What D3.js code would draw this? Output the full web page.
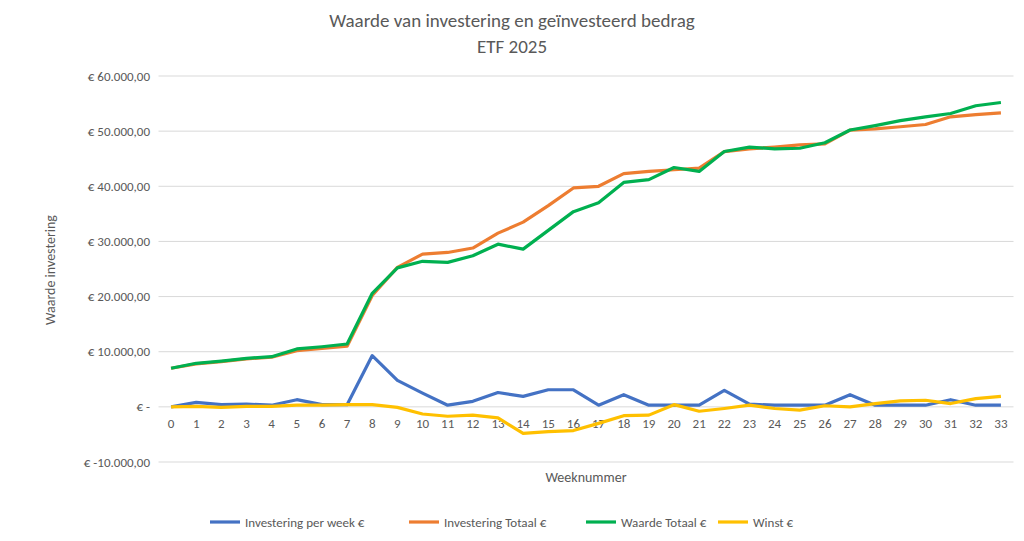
<!DOCTYPE html>
<html>
<head>
<meta charset="utf-8">
<script src="https://cdn.jsdelivr.net/npm/d3@7"></script>
<style>
  body { margin: 0; background: #fff; }
  text { font-family: Calibri, Carlito, "Open Sans", sans-serif; fill: #595959; }
</style>
</head>
<body>
<svg id="chart" width="1024" height="541"></svg>
<script>
const weeks = d3.range(0, 34);
const perWeek = [0, 800, 400, 500, 300, 1300, 400, 400, 9300, 4800, 2500, 300, 1000, 2600, 1900, 3100, 3100, 300, 2200, 300, 300, 300, 3000, 500, 300, 300, 300, 2200, 300, 300, 300, 1300, 300, 300];
const totaal = [7000, 7800, 8200, 8700, 9000, 10200, 10600, 11000, 20200, 25300, 27700, 28000, 28800, 31500, 33500, 36500, 39700, 40000, 42300, 42700, 43000, 43300, 46300, 46800, 47100, 47500, 47700, 50200, 50400, 50800, 51200, 52600, 53000, 53300];
const waarde = [7000, 7900, 8300, 8800, 9100, 10500, 10900, 11400, 20600, 25200, 26400, 26200, 27400, 29500, 28600, 32000, 35400, 37000, 40700, 41200, 43400, 42700, 46300, 47100, 46800, 46900, 47900, 50200, 51000, 51900, 52600, 53200, 54600, 55200];
const winst = [0, 100, -100, 100, 100, 300, 300, 400, 400, -100, -1300, -1700, -1500, -2000, -4800, -4500, -4300, -3000, -1600, -1500, 400, -800, -300, 300, -300, -600, 200, 0, 600, 1100, 1200, 600, 1500, 1900];
const yTicks = [-10000, 0, 10000, 20000, 30000, 40000, 50000, 60000];

const series = [
  { name: "Investering per week €", values: perWeek, color: "#4472C4" },
  { name: "Investering Totaal €", values: totaal, color: "#ED7D31" },
  { name: "Waarde Totaal €", values: waarde, color: "#00B050" },
  { name: "Winst €", values: winst, color: "#FFC000" },
];

const svg = d3.select("#chart");
const x = d3.scalePoint().domain(weeks).range([158.5, 1013.5]).padding(0.5);
const y = d3.scaleLinear().domain([-10000, 60000]).range([462, 76]);

const fmt = (v) => {
  if (v === 0) return "€ -";
  const s = Math.abs(v).toString().replace(/\B(?=(\d{3})+(?!\d))/g, ".");
  return "€ " + (v < 0 ? "-" : "") + s + ",00";
};

svg.append("g").selectAll("line").data(yTicks).join("line")
  .attr("x1", 158.5).attr("x2", 1013.5)
  .attr("y1", (d) => y(d)).attr("y2", (d) => y(d))
  .attr("stroke", "#d9d9d9").attr("stroke-width", 1);

svg.append("g").selectAll("text").data(yTicks).join("text")
  .attr("x", 150).attr("y", (d) => y(d)).attr("dy", "0.35em")
  .attr("text-anchor", "end").attr("font-size", 13)
  .text(fmt);

svg.append("g").selectAll("text").data(weeks).join("text")
  .attr("x", (d) => x(d)).attr("y", 428)
  .attr("text-anchor", "middle").attr("font-size", 13)
  .text((d) => d);

const line = d3.line().x((d, i) => x(weeks[i])).y((d) => y(d));
svg.append("g").selectAll("path").data(series).join("path")
  .attr("fill", "none").attr("stroke", (d) => d.color)
  .attr("stroke-width", 3.2).attr("stroke-linejoin", "round")
  .attr("d", (d) => line(d.values));

svg.append("text").attr("x", 512).attr("y", 27).attr("text-anchor", "middle")
  .attr("font-size", 19).text("Waarde van investering en geïnvesteerd bedrag");
svg.append("text").attr("x", 512).attr("y", 53).attr("text-anchor", "middle")
  .attr("font-size", 19).text("ETF 2025");

svg.append("text").attr("transform", "translate(55,270) rotate(-90)")
  .attr("text-anchor", "middle").attr("font-size", 14).text("Waarde investering");
svg.append("text").attr("x", 586).attr("y", 482).attr("text-anchor", "middle")
  .attr("font-size", 14).text("Weeknummer");

const legendX = [210, 409, 586, 718];
const lg = svg.append("g").selectAll("g").data(series).join("g")
  .attr("transform", (d, i) => `translate(${legendX[i]},522)`);
lg.append("line").attr("x1", 0).attr("x2", 30)
  .attr("stroke", (d) => d.color).attr("stroke-width", 3.2);
lg.append("text").attr("x", 35).attr("dy", "0.35em").attr("font-size", 13)
  .text((d) => d.name);
</script>
</body>
</html>
